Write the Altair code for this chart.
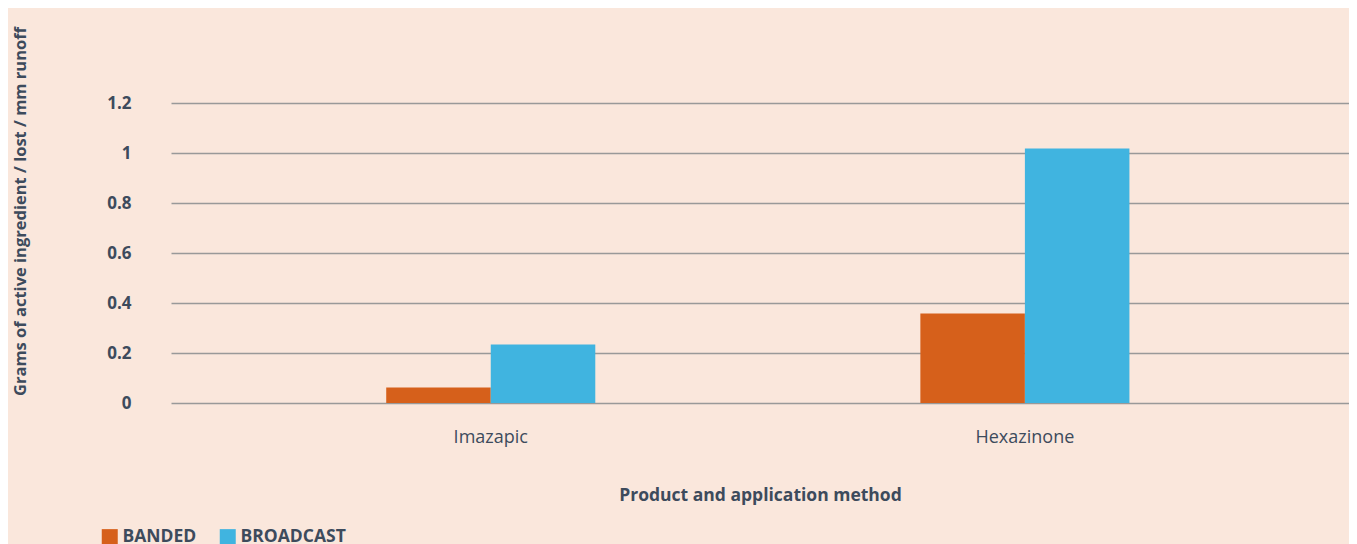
import altair as alt
import pandas as pd

categories = ["Imazapic", "Hexazinone"]
methods = ["BANDED", "BROADCAST"]
banded = [0.062, 0.358]
broadcast = [0.234, 1.018]
y_ticks = [0, 0.2, 0.4, 0.6, 0.8, 1, 1.2]

rows = []
for c, b, r in zip(categories, banded, broadcast):
    rows.append({"product": c, "method": methods[0], "value": b})
    rows.append({"product": c, "method": methods[1], "value": r})
df = pd.DataFrame(rows)

TXT = "#3d4b5c"
FONT = "Open Sans"

chart = alt.Chart(df).mark_bar().encode(
    x=alt.X("product:N", sort=categories,
            scale=alt.Scale(paddingInner=0.6086, paddingOuter=0.407, align=0.495),
            axis=alt.Axis(title="Product and application method", labelAngle=0,
                          labelFont=FONT, labelFontSize=18, labelColor=TXT, labelPadding=25,
                          ticks=False, domain=False, grid=False,
                          titleFont=FONT, titleFontSize=17.5, titleFontWeight="bold",
                          titleColor=TXT, titlePadding=40)),
    xOffset=alt.XOffset("method:N", sort=methods,
                        scale=alt.Scale(paddingInner=0, paddingOuter=0)),
    y=alt.Y("value:Q", scale=alt.Scale(domain=[0, 1.2], nice=False),
            axis=alt.Axis(values=y_ticks, format="~g",
                          title="Grams of active ingredient / lost / mm runoff",
                          labelFont=FONT, labelFontSize=17, labelFontWeight="bold",
                          labelColor=TXT, labelPadding=40, ticks=False, domain=False,
                          gridColor="#999999", gridWidth=1.3,
                          titleFont=FONT, titleFontSize=16.5, titleFontWeight="bold",
                          titleColor=TXT, titleAngle=-90, titleX=-151, titleY=108,
                          titleAlign="center", titleBaseline="middle")),
    color=alt.Color("method:N", sort=methods,
                    scale=alt.Scale(domain=methods, range=["#d6601b", "#40b4e0"]),
                    legend=alt.Legend(title=None, orient="none", legendX=-70, legendY=425,
                                      direction="horizontal", symbolType="square",
                                      symbolSize=256, symbolStrokeWidth=0, symbolOpacity=1,
                                      labelFont=FONT, labelFontSize=17.5, labelFontWeight="bold",
                                      labelColor=TXT, labelOffset=4, columnPadding=22,
                                      labelExpr="datum.label == 'BROADCAST' ? '\u00a0\u00a0\u00a0BROADCAST' : datum.label",
                                      padding=0)),
).properties(
    width=1178, height=300,
    background="#fae7dc",
    padding={"left": 163, "top": 95, "right": 0, "bottom": 141},
    autosize=alt.AutoSizeParams(type="none"),
).configure_view(stroke=None)

chart.save("out.html", embed_options={"renderer": "svg", "actions": False})
